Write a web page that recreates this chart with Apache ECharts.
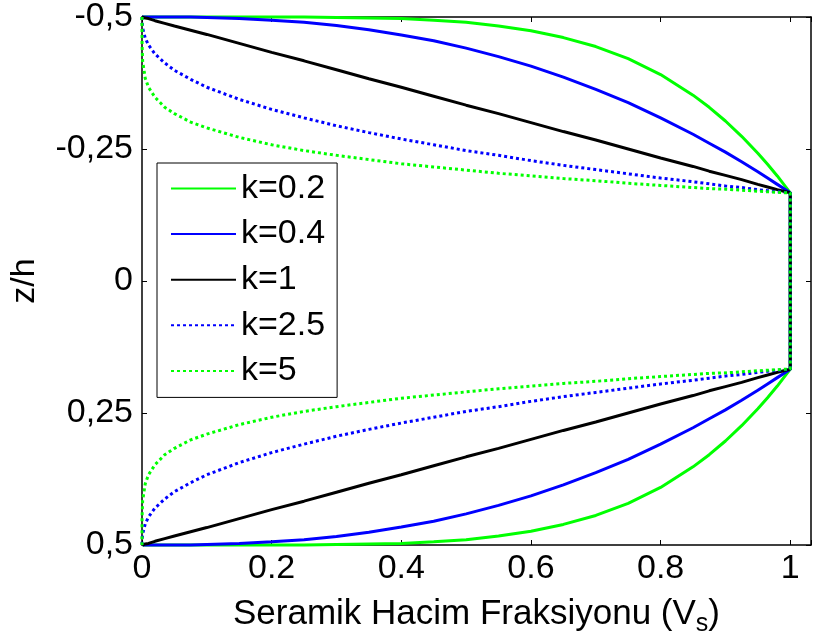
<!DOCTYPE html>
<html>
<head>
<meta charset="utf-8">
<script src="https://cdn.jsdelivr.net/npm/echarts@6/dist/echarts.min.js"></script>
<style>
  html, body { margin: 0; padding: 0; background: #fff; }
  #chart { width: 814px; height: 643px; }
</style>
</head>
<body>
<div id="chart"></div>
<script>
// Vs sample positions (ceramic volume fraction)
const vs = [0, 0.0001, 0.001, 0.005, 0.01, 0.02, 0.035, 0.05, 0.075, 0.1, 0.15, 0.2, 0.25,
            0.3, 0.35, 0.4, 0.45, 0.5, 0.55, 0.6, 0.65, 0.7, 0.75, 0.8, 0.85, 0.875,
            0.9, 0.925, 0.95, 0.965, 0.98, 0.99, 1];

// z/h (top) and lower face sheet (bottom)
const k02Top = [-0.5, -0.5, -0.5, -0.5, -0.5, -0.5, -0.5, -0.5, -0.5, -0.5, -0.5, -0.5, -0.5,
                -0.499, -0.498, -0.497, -0.494, -0.49, -0.483, -0.474, -0.461, -0.444, -0.421, -0.391, -0.352, -0.329,
                -0.303, -0.274, -0.242, -0.221, -0.199, -0.183, -0.167];
const k02Bot = [0.5, 0.5, 0.5, 0.5, 0.5, 0.5, 0.5, 0.5, 0.5, 0.5, 0.5, 0.5, 0.5,
                0.499, 0.498, 0.497, 0.494, 0.49, 0.483, 0.474, 0.461, 0.444, 0.421, 0.391, 0.352, 0.329,
                0.303, 0.274, 0.242, 0.221, 0.199, 0.183, 0.167];
const k04Top = [-0.5, -0.5, -0.5, -0.5, -0.5, -0.5, -0.5, -0.5, -0.5, -0.499, -0.497, -0.494, -0.49,
                -0.484, -0.476, -0.466, -0.455, -0.441, -0.425, -0.407, -0.386, -0.363, -0.338, -0.309, -0.278, -0.261,
                -0.244, -0.226, -0.207, -0.195, -0.183, -0.175, -0.167];
const k04Bot = [0.5, 0.5, 0.5, 0.5, 0.5, 0.5, 0.5, 0.5, 0.5, 0.499, 0.497, 0.494, 0.49,
                0.484, 0.476, 0.466, 0.455, 0.441, 0.425, 0.407, 0.386, 0.363, 0.338, 0.309, 0.278, 0.261,
                0.244, 0.226, 0.207, 0.195, 0.183, 0.175, 0.167];
const k1Top = [-0.5, -0.5, -0.5, -0.498, -0.497, -0.493, -0.488, -0.483, -0.475, -0.467, -0.45, -0.433, -0.417,
               -0.4, -0.383, -0.367, -0.35, -0.333, -0.317, -0.3, -0.283, -0.267, -0.25, -0.233, -0.217, -0.208,
               -0.2, -0.192, -0.183, -0.178, -0.173, -0.17, -0.167];
const k1Bot = [0.5, 0.5, 0.5, 0.498, 0.497, 0.493, 0.488, 0.483, 0.475, 0.467, 0.45, 0.433, 0.417,
               0.4, 0.383, 0.367, 0.35, 0.333, 0.317, 0.3, 0.283, 0.267, 0.25, 0.233, 0.217, 0.208,
               0.2, 0.192, 0.183, 0.178, 0.173, 0.17, 0.167];
const k25Top = [-0.5, -0.492, -0.479, -0.46, -0.447, -0.43, -0.413, -0.399, -0.382, -0.367, -0.344, -0.325, -0.309,
                -0.294, -0.281, -0.269, -0.258, -0.247, -0.238, -0.228, -0.219, -0.211, -0.203, -0.195, -0.188, -0.184,
                -0.18, -0.177, -0.173, -0.171, -0.169, -0.168, -0.167];
const k25Bot = [0.5, 0.492, 0.479, 0.46, 0.447, 0.43, 0.413, 0.399, 0.382, 0.367, 0.344, 0.325, 0.309,
                0.294, 0.281, 0.269, 0.258, 0.247, 0.238, 0.228, 0.219, 0.211, 0.203, 0.195, 0.188, 0.184,
                0.18, 0.177, 0.173, 0.171, 0.169, 0.168, 0.167];
const k5Top = [-0.5, -0.447, -0.416, -0.384, -0.367, -0.348, -0.329, -0.317, -0.301, -0.29, -0.272, -0.258, -0.247,
               -0.238, -0.23, -0.222, -0.216, -0.21, -0.204, -0.199, -0.194, -0.19, -0.185, -0.181, -0.177, -0.175,
               -0.174, -0.172, -0.17, -0.169, -0.168, -0.167, -0.167];
const k5Bot = [0.5, 0.447, 0.416, 0.384, 0.367, 0.348, 0.329, 0.317, 0.301, 0.29, 0.272, 0.258, 0.247,
               0.238, 0.23, 0.222, 0.216, 0.21, 0.204, 0.199, 0.194, 0.19, 0.185, 0.181, 0.177, 0.175,
               0.174, 0.172, 0.17, 0.169, 0.168, 0.167, 0.167];

const names = ['k=0.2', 'k=0.4', 'k=1', 'k=2.5', 'k=5'];
const colors = ['#00ff00', '#0000ff', '#000000', '#0000ff', '#00ff00'];
const dashed = [false, false, false, true, true];
const curves = [[k02Top, k02Bot], [k04Top, k04Bot], [k1Top, k1Bot], [k25Top, k25Bot], [k5Top, k5Bot]];

// path: top face from Vs=0 to 1, down the core at Vs=1, then bottom face back to 0
function path(top, bot) {
  const pts = [];
  for (let i = 0; i < vs.length; i++) pts.push([vs[i], top[i]]);
  for (let i = vs.length - 1; i >= 0; i--) pts.push([vs[i], bot[i]]);
  return pts;
}

const FONT = '"Liberation Sans", Arial, sans-serif';
const chart = echarts.init(document.getElementById('chart'));

const axisLine = { show: true, onZero: false, lineStyle: { color: '#000', width: 1.5 } };
const tick = { show: true, inside: true, length: 5, lineStyle: { color: '#000', width: 1 } };

const option = {
  animation: false,
  backgroundColor: '#fff',
  grid: { left: 141, top: 17, right: 0, bottom: 98 },
  legend: {
    orient: 'vertical',
    left: 157, top: 163,
    data: names,
    itemWidth: 65, itemHeight: 14, itemGap: 11.6,
    padding: [8.5, 12, 9.5, 13],
    borderColor: '#000', borderWidth: 1, backgroundColor: '#fff',
    itemStyle: { opacity: 0 },
    textStyle: { fontFamily: FONT, fontSize: 34, lineHeight: 33, color: '#000' }
  },
  xAxis: [{
    type: 'value', min: 0, max: 1.032, interval: 0.2,
    axisLine, axisTick: tick, splitLine: { show: false },
    axisLabel: {
      fontFamily: FONT, fontSize: 34, color: '#000', margin: 7,
      formatter: v => (v > 1.001 ? '' : String(Math.round(v * 10) / 10))
    },
    name: 'Seramik Hacim Fraksiyonu (V{sub|s})',
    nameLocation: 'middle', nameGap: 38,
    nameTextStyle: {
      fontFamily: FONT, fontSize: 35, color: '#000', lineHeight: 46,
      rich: { sub: { fontFamily: FONT, fontSize: 25, lineHeight: 25, padding: [21, 0, 0, 0], color: '#000' } }
    }
  }, {
    type: 'value', position: 'top', min: 0, max: 1.032, interval: 0.2,
    axisLine, axisTick: tick, axisLabel: { show: false }, splitLine: { show: false }
  }],
  yAxis: [{
    type: 'value', inverse: true, min: -0.5, max: 0.5, interval: 0.25,
    axisLine, axisTick: tick, splitLine: { show: false },
    axisLabel: {
      fontFamily: FONT, fontSize: 34, color: '#000', margin: 9,
      formatter: v => String(v).replace('.', ',')
    },
    name: 'z/h', nameLocation: 'middle', nameGap: 100,
    nameTextStyle: { fontFamily: FONT, fontSize: 34, color: '#000' }
  }, {
    type: 'value', position: 'right', inverse: true, min: -0.5, max: 0.5, interval: 0.25,
    axisLine, axisTick: tick, axisLabel: { show: false }, splitLine: { show: false }
  }],
  series: names.map((n, i) => ({
    name: n,
    type: 'line',
    data: path(curves[i][0], curves[i][1]),
    showSymbol: false, symbol: 'none',
    clip: false,
    color: colors[i],
    lineStyle: { color: colors[i], width: 3, type: dashed[i] ? [3, 3] : 'solid' }
  }))
};
chart.setOption(option);
</script>
</body>
</html>
